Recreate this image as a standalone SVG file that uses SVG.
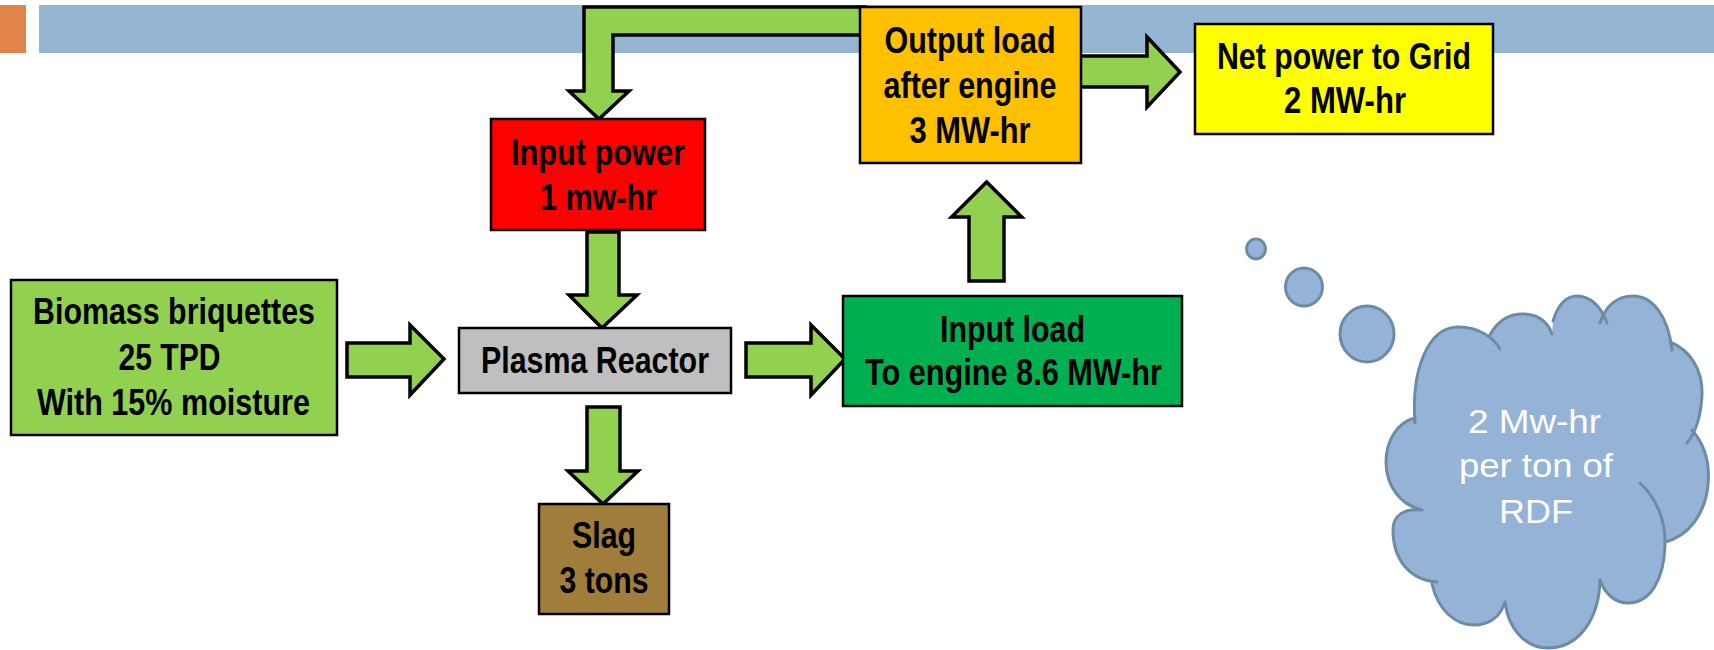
<svg xmlns="http://www.w3.org/2000/svg" width="1714" height="650" viewBox="0 0 1714 650">
<style>
.box{stroke:#000;stroke-width:2.5}
.arr{fill:#92D050;stroke:#000;stroke-width:3.5;stroke-linejoin:miter;stroke-miterlimit:10}
.t{font-family:"Liberation Sans",Arial,sans-serif;font-weight:bold;font-size:36.5px;fill:#000;text-anchor:middle}
.ct{font-family:"Liberation Sans",Arial,sans-serif;font-size:33px;fill:#fff;text-anchor:middle}
.lobe{fill:none;stroke:#6E8BA6;stroke-width:3;stroke-linecap:round}
.bub{fill:#95B3D7;stroke:#6E8BA6;stroke-width:3}
</style>
<rect width="1714" height="650" fill="#fff"/>
<g id="header">
<rect x="0" y="5" width="26" height="48" fill="#E0844B"/>
<rect x="39" y="5" width="1675" height="48" fill="#95B6D3"/>
</g>
<g id="connectors">
<polygon class="arr" points="865,7 584,7 584,91 569,91 599,119 629,91 613,91 613,35 865,35"/>
<polygon class="arr" points="1078,56 1147,56 1147,37 1180,72 1147,107 1147,87 1078,87"/>
<polygon class="arr" points="969,281 969,217 951.5,217 986.6,182 1021.7,217 1004,217 1004,281"/>
<polygon class="arr" points="587,232 619,232 619,295 637,295 602,328 569,295 587,295"/>
<polygon class="arr" points="347,343 410,343 410,325 444,359 410,395 410,377 347,377"/>
<polygon class="arr" points="746,343 811,343 811,325 845,359 811,395 811,377 746,377"/>
<polygon class="arr" points="587,407 620,407 620,471 638,471 603,504 568,471 587,471"/>
</g>
<g id="output-load">
<rect class="box" x="860" y="7" width="221" height="156" fill="#FFC000"/>
<text class="t" x="970" y="53" textLength="171" lengthAdjust="spacingAndGlyphs">Output load</text>
<text class="t" x="970" y="98" textLength="173" lengthAdjust="spacingAndGlyphs">after engine</text>
<text class="t" x="970" y="143" textLength="121" lengthAdjust="spacingAndGlyphs">3 MW-hr</text>
</g>
<g id="net-power">
<rect class="box" x="1195" y="24" width="298" height="110" fill="#FFFF00"/>
<text class="t" x="1344" y="69" textLength="254" lengthAdjust="spacingAndGlyphs">Net power to Grid</text>
<text class="t" x="1345" y="113" textLength="122" lengthAdjust="spacingAndGlyphs">2 MW-hr</text>
</g>
<g id="input-power">
<rect class="box" x="491" y="119" width="214" height="111" fill="#FF0000"/>
<text class="t" x="598" y="165" textLength="174" lengthAdjust="spacingAndGlyphs">Input power</text>
<text class="t" x="598.5" y="210" textLength="117" lengthAdjust="spacingAndGlyphs">1 mw-hr</text>
</g>
<g id="biomass">
<rect class="box" x="11" y="280" width="326" height="155" fill="#92D050"/>
<text class="t" x="174" y="324" textLength="282" lengthAdjust="spacingAndGlyphs">Biomass briquettes</text>
<text class="t" x="169.5" y="370" textLength="102" lengthAdjust="spacingAndGlyphs">25 TPD</text>
<text class="t" x="173.5" y="415" textLength="273" lengthAdjust="spacingAndGlyphs">With 15% moisture</text>
</g>
<g id="plasma-reactor">
<rect class="box" x="459" y="328" width="272" height="65" fill="#BFBFBF"/>
<text class="t" x="595" y="373" textLength="228" lengthAdjust="spacingAndGlyphs">Plasma Reactor</text>
</g>
<g id="slag">
<rect class="box" x="539" y="504" width="130" height="110" fill="#A07D3A"/>
<text class="t" x="604" y="548" textLength="64" lengthAdjust="spacingAndGlyphs">Slag</text>
<text class="t" x="604" y="593" textLength="89" lengthAdjust="spacingAndGlyphs">3 tons</text>
</g>
<g id="input-load">
<rect class="box" x="843" y="296" width="339" height="110" fill="#00B050"/>
<text class="t" x="1012.5" y="342" textLength="145" lengthAdjust="spacingAndGlyphs">Input load</text>
<text class="t" x="1013.5" y="385" textLength="297" lengthAdjust="spacingAndGlyphs">To engine 8.6 MW-hr</text>
</g>
<g id="thought-cloud">
<ellipse class="bub" cx="1256" cy="249" rx="9.5" ry="10"/>
<ellipse class="bub" cx="1304" cy="287" rx="18.5" ry="19"/>
<ellipse class="bub" cx="1367" cy="334" rx="27" ry="28"/>
<path fill="#95B3D7" d="M1415,423 C1411,370 1428,328 1457,327 C1478,326 1494,338 1500,349 L1490,335 C1498,320 1510,314 1523,314 C1538,314 1548,322 1552,334 L1553,321 C1558,305 1566,296 1577,296 C1590,296 1601,306 1607,323 L1600,323 C1606,305 1618,296 1633,296 C1652,296 1668,315 1672,350 L1670,342 C1690,350 1703,370 1702,395 C1701,415 1696,432 1687,443 L1692,430 C1705,445 1710,465 1708,485 C1705,515 1688,536 1665,542 L1665,545 C1664,580 1650,603 1628,603 C1615,603 1605,594 1600,580 C1599,620 1578,648 1548,648 C1525,648 1508,628 1505,602 C1500,618 1488,625 1474,625 C1455,625 1438,610 1432,584 L1437,582 C1410,580 1393,560 1393,530 C1393,515 1405,508 1420,510 L1422,510 C1400,505 1386,485 1386,462 C1386,440 1398,422 1415,418 Z"/>
<path class="lobe" d="M1415,423 C1411,370 1428,328 1457,327 C1478,326 1494,338 1500,349"/>
<path class="lobe" d="M1490,335 C1498,320 1510,314 1523,314 C1538,314 1548,322 1552,334"/>
<path class="lobe" d="M1553,321 C1558,305 1566,296 1577,296 C1590,296 1601,306 1607,323"/>
<path class="lobe" d="M1600,323 C1606,305 1618,296 1633,296 C1652,296 1668,315 1672,350"/>
<path class="lobe" d="M1670,342 C1690,350 1703,370 1702,395 C1701,415 1696,432 1687,443"/>
<path class="lobe" d="M1692,430 C1705,445 1710,465 1708,485 C1705,515 1688,536 1665,542"/>
<path class="lobe" d="M1640,483 C1656,498 1666,520 1665,545 C1664,580 1650,603 1628,603 C1615,603 1605,594 1600,580"/>
<path class="lobe" d="M1600,580 C1599,620 1578,648 1548,648 C1525,648 1508,628 1505,602"/>
<path class="lobe" d="M1505,602 C1500,618 1488,625 1474,625 C1455,625 1438,610 1432,584"/>
<path class="lobe" d="M1437,582 C1410,580 1393,560 1393,530 C1393,515 1405,508 1420,510"/>
<path class="lobe" d="M1422,510 C1400,505 1386,485 1386,462 C1386,440 1398,422 1415,418"/>
<text class="ct" x="1534.5" y="433" textLength="133" lengthAdjust="spacingAndGlyphs">2 Mw-hr</text>
<text class="ct" x="1536" y="477" textLength="154" lengthAdjust="spacingAndGlyphs">per ton of</text>
<text class="ct" x="1536" y="523" textLength="74" lengthAdjust="spacingAndGlyphs">RDF</text>
</g>
</svg>
